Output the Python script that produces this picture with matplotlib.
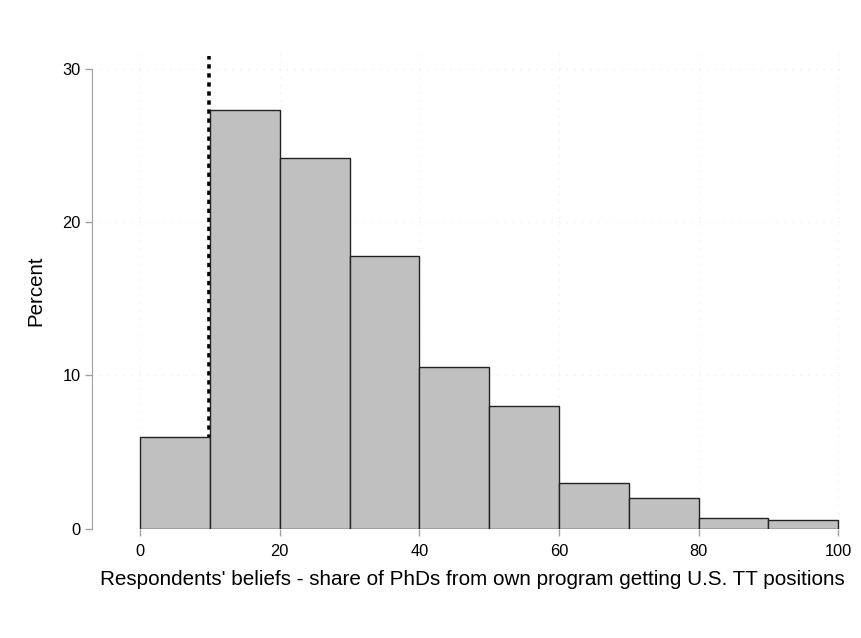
import matplotlib
matplotlib.use("Agg")
import matplotlib.pyplot as plt

plt.rcParams['font.family'] = ['Liberation Sans', 'DejaVu Sans']

# histogram bins (percent of respondents per 10-point bin)
bin_edges = [0, 10, 20, 30, 40, 50, 60, 70, 80, 90, 100]
percents = [6.0, 27.3, 24.15, 17.8, 10.55, 8.0, 3.0, 1.97, 0.67, 0.56]
ref_line = 10
x_ticks = [0, 20, 40, 60, 80, 100]
y_ticks = [0, 10, 20, 30]

fig = plt.figure(figsize=(8.62, 6.38), dpi=100)
ax = fig.add_axes([0.1067, 0.1715, 0.868, 0.745])

lefts = bin_edges[:-1]
widths = [b - a for a, b in zip(bin_edges[:-1], bin_edges[1:])]
ax.bar(lefts, percents, width=widths, align="edge", color="#c0c0c0",
       edgecolor="#222222", linewidth=1.0, zorder=3)

ax.plot([ref_line - 0.1, ref_line - 0.1], [0, 30.8], color="black",
        linewidth=2.6, linestyle=(0, (1.2, 1.3)), clip_on=False, zorder=2)

ax.set_xlim(-6.9, 100.3)
ax.set_ylim(0, 31)
ax.set_xticks(x_ticks)
ax.set_yticks(y_ticks)
ax.grid(True, color="#e6e6e6", linestyle=(0, (1, 6)), linewidth=0.8, zorder=0)

for s in ["top", "right", "bottom"]:
    ax.spines[s].set_visible(False)
ax.spines["left"].set_color("#a0a0a0")
ax.spines["left"].set_bounds(0, 30)
ax.tick_params(axis="both", colors="#a0a0a0", labelcolor="black",
               labelsize=11.8, length=5, width=1)
ax.tick_params(axis="x", pad=6)
ax.tick_params(axis="y", pad=3)

ax.set_ylabel("Percent", fontsize=14.8, labelpad=12)
ax.set_xlabel("Respondents' beliefs - share of PhDs from own program getting U.S. TT positions",
              fontsize=14.9, labelpad=8)
ax.xaxis.label.set_x(0.508)

plt.savefig("out.png")
